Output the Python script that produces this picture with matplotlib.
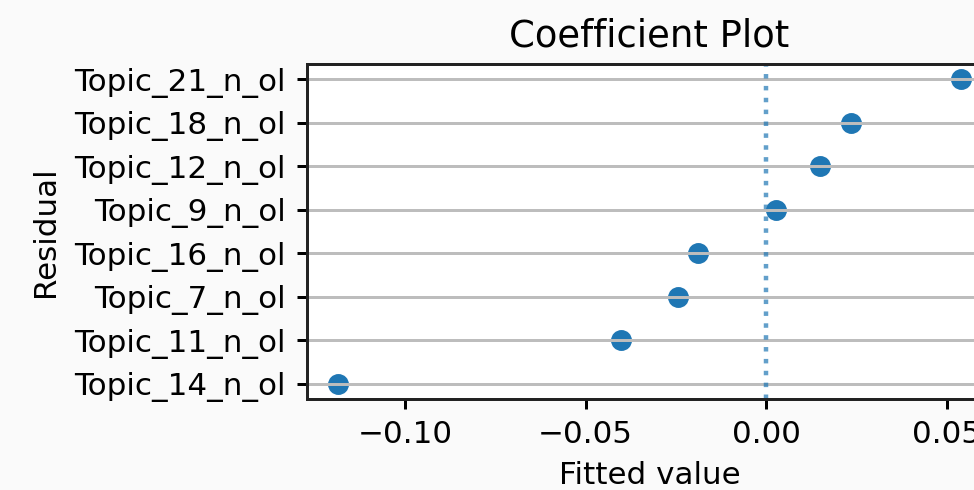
import matplotlib
matplotlib.use('Agg')
import matplotlib.pyplot as plt

# fitted coefficients per topic, ordered bottom -> top
topics = ['Topic_14_n_ol', 'Topic_11_n_ol', 'Topic_7_n_ol', 'Topic_16_n_ol',
          'Topic_9_n_ol', 'Topic_12_n_ol', 'Topic_18_n_ol', 'Topic_21_n_ol']
coefs = [-0.1185, -0.0403, -0.0243, -0.0190, 0.0028, 0.0149, 0.0234, 0.0539]

plt.rcParams.update({
    'font.size': 10.4,
    'axes.linewidth': 1.0,
    'ytick.major.width': 1.0,
    'xtick.major.width': 1.0,
    'axes.edgecolor': '#222222',
})

DPI = 215
fig = plt.figure(figsize=(974 / DPI, 490 / DPI), dpi=DPI, facecolor='#fafafa')
ax = fig.add_axes([307 / 974, 1 - 399 / 490, (992 - 307) / 974, (399 - 64) / 490])
ax.set_facecolor('white')

ax.scatter(coefs, topics, color='C0')
ax.axvline(0, ls=':', color='C0', alpha=0.7)
ax.grid(axis='y', color='#bdbdbd', lw=1.0)
ax.set_title('Coefficient Plot', fontsize=12.4)
ax.set_xlabel('Fitted value', labelpad=4)
ax.set_ylabel('Residual', labelpad=5)

fig.savefig('out.png', dpi=DPI, facecolor=fig.get_facecolor())
